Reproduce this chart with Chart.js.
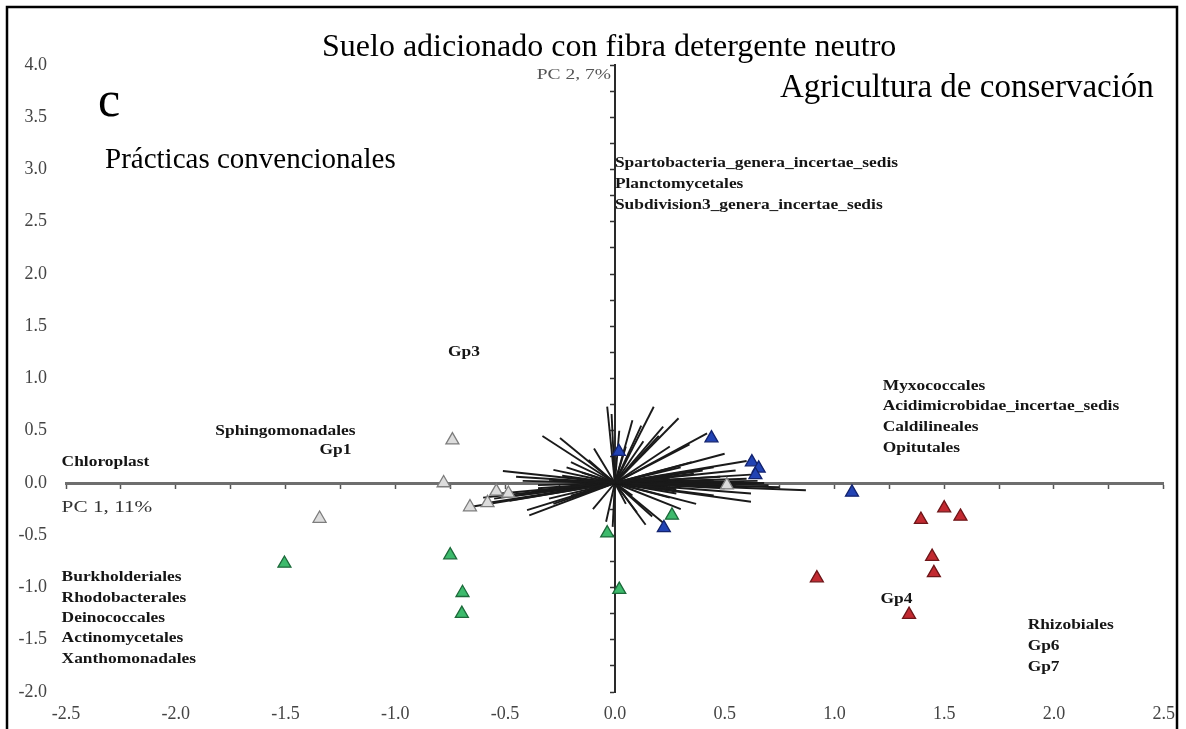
<!DOCTYPE html>
<html>
<head>
<meta charset="utf-8">
<script src="https://cdn.jsdelivr.net/npm/chart.js@4.4.1/dist/chart.umd.min.js"></script>
<style>
  html, body { margin: 0; padding: 0; background: #ffffff; }
  #wrap { width: 1186px; height: 729px; position: relative; }
</style>
</head>
<body>
<div id="wrap"><canvas id="pca" width="1186" height="729"></canvas></div>
<script>
// ---- PCA sample scores (PC 1, PC 2) per treatment group ----
const grayX  = [-0.74, -0.78, -1.345, -0.54, -0.485, -0.66, -0.58, 0.51];
const grayY  = [ 0.41,  0.00, -0.34,  -0.08, -0.10,  -0.23, -0.19, -0.02];
const greenX = [-1.505, -0.75, -0.694, -0.697, -0.035, 0.02, 0.26];
const greenY = [-0.77,  -0.69, -1.05,  -1.25,  -0.48, -1.02, -0.31];
const blueX  = [0.018, 0.44, 0.624, 0.655, 0.64, 0.223, 1.08];
const blueY  = [0.30,  0.43, 0.20,  0.14,  0.077, -0.43, -0.09];
const redX   = [1.394, 1.50, 1.574, 1.445, 1.453, 0.92, 1.34];
const redY   = [-0.35, -0.24, -0.32, -0.705, -0.86, -0.91, -1.26];

// ---- taxon loadings (arrow tips, drawn from the origin) ----
const loadX = [-0.33, -0.25, -0.095, -0.035, -0.015, -0.51, -0.28, -0.24, -0.15, -0.20, -0.12,
               -0.66, -0.58, -0.52, -0.45, -0.40, -0.39, -0.35, -0.30, -0.25, -0.20, -0.04, -0.01, -0.55, -0.48,
               0.177, 0.08, 0.29, 0.22, 0.42, 0.50, 0.60, 0.34, 0.25, 0.13, 0.05, 0.45, 0.55, 0.35, 0.62, 0.48,
               0.87, 0.70, 0.65, 0.55, 0.60, 0.45, 0.50, 0.40, 0.75, 0.30, 0.35, 0.25, 0.28,
               0.62, 0.37, 0.17, 0.30, 0.25, 0.45, 0.10, 0.22, 0.05, 0.62, -0.30, -0.35,
               0.42, 0.38, 0.33, 0.46, 0.52, 0.58, 0.68, 0.36, 0.40, 0.30, 0.28, 0.20,
               -0.42, -0.38, -0.28, -0.22, -0.45, -0.60, 0.12, 0.02, 0.20, 0.14, 0.08, -0.10];
const loadY = [0.45, 0.43, 0.33, 0.73, 0.66, 0.115, 0.125, 0.07, 0.10, 0.20, 0.22,
               -0.23, -0.19, -0.10, -0.12, -0.26, -0.31, -0.05, -0.15, -0.08, -0.12, -0.37, -0.42, -0.15, -0.17,
               0.73, 0.60, 0.62, 0.54, 0.475, 0.28, 0.21, 0.37, 0.35, 0.40, 0.35, 0.15, 0.12, 0.20, 0.08, 0.06,
               -0.07, -0.02, 0.02, -0.03, 0.04, 0.03, -0.05, -0.02, -0.04, 0.01, -0.01, 0.05, -0.06,
               -0.18, -0.20, -0.32, -0.25, -0.14, -0.12, -0.28, -0.38, -0.20, -0.10, 0.03, -0.02,
               0.00, 0.02, -0.03, -0.01, 0.01, -0.01, 0.00, 0.09, 0.12, 0.15, -0.10, -0.06,
               0.02, -0.08, -0.20, 0.15, 0.06, -0.14, 0.55, 0.50, 0.45, -0.40, -0.12, -0.25];

// ---- axis ticks ----
const xTicks = [-2.5, -2.0, -1.5, -1.0, -0.5, 0.0, 0.5, 1.0, 1.5, 2.0, 2.5];
const xTickLabels = ['-2.5', '-2.0', '-1.5', '-1.0', '-0.5', '0.0', '0.5', '1.0', '1.5', '2.0', '2.5'];
const yTicks = [-2.0, -1.5, -1.0, -0.5, 0.0, 0.5, 1.0, 1.5, 2.0, 2.5, 3.0, 3.5, 4.0];
const yTickLabels = ['-2.0', '-1.5', '-1.0', '-0.5', '0.0', '0.5', '1.0', '1.5', '2.0', '2.5', '3.0', '3.5', '4.0'];

// ---- taxon names placed in PC space ----
const taxaText = ['Spartobacteria_genera_incertae_sedis', 'Planctomycetales', 'Subdivision3_genera_incertae_sedis',
                  'Gp3', 'Sphingomonadales', 'Gp1', 'Chloroplast',
                  'Burkholderiales', 'Rhodobacterales', 'Deinococcales', 'Actinomycetales', 'Xanthomonadales',
                  'Myxococcales', 'Acidimicrobidae_incertae_sedis', 'Caldilineales', 'Opitutales',
                  'Gp4', 'Rhizobiales', 'Gp6', 'Gp7'];
const taxaX = [0.0, 0.0, 0.0,
               -0.76, -1.82, -1.2, -2.52,
               -2.52, -2.52, -2.52, -2.52, -2.52,
               1.22, 1.22, 1.22, 1.22,
               1.21, 1.88, 1.88, 1.88];
const taxaY = [3.06, 2.86, 2.66,
               1.25, 0.50, 0.31, 0.20,
               -0.90, -1.10, -1.29, -1.49, -1.69,
               0.93, 0.73, 0.53, 0.33,
               -1.11, -1.36, -1.56, -1.76];
const taxaAlign = ['left', 'left', 'left', 'left', 'left', 'right', 'left',
                   'left', 'left', 'left', 'left', 'left',
                   'left', 'left', 'left', 'left', 'left', 'left', 'left', 'left'];

const toPoints = (xs, ys) => xs.map((x, i) => ({ x: x, y: ys[i] }));

function groupSet(label, xs, ys, fill, edge) {
  return {
    label: label,
    data: toPoints(xs, ys),
    pointStyle: 'triangle',
    pointRadius: 7.5,
    pointHoverRadius: 7.5,
    backgroundColor: fill,
    borderColor: edge,
    borderWidth: 1.3,
    order: 0
  };
}

const datasets = [
  groupSet('Gris', grayX, grayY, '#dcdcdc', '#7d7d7d'),
  groupSet('Verde', greenX, greenY, '#3dba6c', '#1d6a3b'),
  groupSet('Azul', blueX, blueY, '#2243b4', '#13236e'),
  groupSet('Rojo', redX, redY, '#c22a31', '#6e1619')
];
loadX.forEach((lx, i) => {
  datasets.push({
    label: 'v' + i,
    data: [{ x: 0, y: 0 }, { x: lx, y: loadY[i] }],
    showLine: true,
    pointRadius: 0,
    borderColor: '#1a1a1a',
    borderWidth: 1.9,
    order: 1
  });
});

function drawStretched(ctx, txt, x, y, font, sx, align, color) {
  ctx.save();
  ctx.font = font;
  ctx.fillStyle = color;
  ctx.textBaseline = 'middle';
  ctx.textAlign = 'left';
  const w = ctx.measureText(txt).width * sx;
  const left = align === 'right' ? x - w : x;
  ctx.translate(left, y);
  ctx.scale(sx, 1);
  ctx.fillText(txt, 0, 0);
  ctx.restore();
}

const decor = {
  id: 'decor',
  afterDatasetsDraw(chart) {
    const ctx = chart.ctx;
    const sx = chart.scales.x, sy = chart.scales.y;
    // taxon names
    taxaText.forEach((t, i) => {
      drawStretched(ctx, t, sx.getPixelForValue(taxaX[i]), sy.getPixelForValue(taxaY[i]),
        'bold 14.5px "Liberation Serif"', 1.2, taxaAlign[i], '#151515');
    });
    // component labels
    drawStretched(ctx, 'PC 2, 7%', sx.getPixelForValue(0) - 4, sy.getPixelForValue(3.9),
      '15px "Liberation Serif"', 1.3, 'right', '#555');
    drawStretched(ctx, 'PC 1, 11%', sx.getPixelForValue(-2.52), sy.getPixelForValue(-0.23),
      '17px "Liberation Serif"', 1.25, 'left', '#333');
    // headings
    ctx.save();
    ctx.fillStyle = '#000';
    ctx.textBaseline = 'alphabetic';
    ctx.textAlign = 'left';
    ctx.font = '32px "Liberation Serif"';
    ctx.fillText('Suelo adicionado con fibra detergente neutro', 322, 56);
    ctx.font = '33px "Liberation Serif"';
    ctx.fillText('Agricultura de conservación', 780, 97);
    ctx.font = '29px "Liberation Serif"';
    ctx.fillText('Prácticas convencionales', 105, 168);
    ctx.font = '50px "Liberation Serif"';
    ctx.fillText('c', 98, 116);
    ctx.restore();
  },
  afterDraw(chart) {
    const ctx = chart.ctx;
    ctx.save();
    ctx.strokeStyle = '#000';
    ctx.lineWidth = 2.5;
    ctx.beginPath();
    ctx.moveTo(7, 735);
    ctx.lineTo(7, 7);
    ctx.lineTo(1177, 7);
    ctx.lineTo(1177, 735);
    ctx.stroke();
    ctx.restore();
  }
};

new Chart(document.getElementById('pca'), {
  type: 'scatter',
  data: { datasets: datasets },
  options: {
    responsive: false,
    animation: false,
    devicePixelRatio: 1,
    layout: { padding: { top: 65, right: 20, left: 0, bottom: 0 } },
    plugins: { legend: { display: false }, tooltip: { enabled: false } },
    scales: {
      x: {
        type: 'linear', position: 'bottom', min: -2.5, max: 2.5,
        afterBuildTicks: s => { s.ticks = xTicks.map(v => ({ value: v })); },
        afterFit: s => { s.height = 37; },
        ticks: {
          callback: (v, i) => xTickLabels[i],
          font: { family: 'Liberation Serif', size: 18 },
          color: '#444', padding: 11, maxRotation: 0, autoSkip: false
        },
        grid: { display: false, drawTicks: false },
        border: { display: false }
      },
      y: {
        type: 'linear', position: 'left', min: -2, max: 4,
        afterBuildTicks: s => { s.ticks = yTicks.map(v => ({ value: v })); },
        afterFit: s => { s.width = 66; },
        ticks: {
          callback: (v, i) => yTickLabels[i],
          font: { family: 'Liberation Serif', size: 18 },
          color: '#444', padding: 19, autoSkip: false
        },
        grid: { display: false, drawTicks: false },
        border: { display: false }
      },
      xOrigin: {
        type: 'linear', axis: 'x', position: { y: 0 }, min: -2.5, max: 2.5,
        ticks: { display: false, stepSize: 0.25 },
        grid: { drawOnChartArea: false, drawTicks: true, tickLength: 4, tickColor: '#555', tickWidth: 1.5 },
        border: { display: true, color: '#6e6e6e', width: 3 }
      },
      yOrigin: {
        type: 'linear', axis: 'y', position: { x: 0 }, min: -2, max: 4,
        ticks: { display: false, stepSize: 0.25 },
        grid: { drawOnChartArea: false, drawTicks: true, tickLength: 4, tickColor: '#333', tickWidth: 1.5 },
        border: { display: true, color: '#2a2a2a', width: 2 }
      }
    }
  },
  plugins: [decor]
});
</script>
</body>
</html>
